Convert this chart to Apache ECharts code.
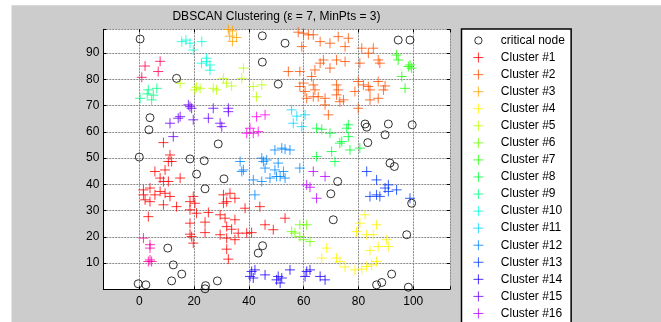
<!DOCTYPE html>
<html>
<head>
<meta charset="utf-8">
<script src="https://cdn.jsdelivr.net/npm/echarts@6/dist/echarts.min.js"></script>
<style>html,body{margin:0;padding:0;background:#fff}#c{width:661px;height:322px}</style>
</head>
<body>
<div id="c"></div>
<script>
const titleText = 'DBSCAN Clustering (\u03b5 = 7, MinPts = 3)';
const xTickValues = [0, 20, 40, 60, 80, 100];
const yTickValues = [10, 20, 30, 40, 50, 60, 70, 80, 90];

const criticalNodes = [[0.3,95.4],[13.6,80.4],[44.9,96.6],[44.9,86.6],[50.7,78.2],[53.2,93.8],[94.5,95],[98.8,95],
[3.9,65.4],[3.5,60.8],[28.8,55.4],[0,50.4],[18.5,49.7],[23.7,49],[20.9,43.9],[30.9,42.1],[24,38.3],
[82.4,63],[83,61.8],[90.9,63],[99.6,62.7],[89.7,58.9],[83.4,55.9],[91.5,48.1],[93.1,46.8],[72.4,41.1],[69.9,36.4],[99.4,32.8],
[70.8,26.5],[97.6,20.8],[92.1,5.8],[88.5,2.6],[86.6,1.7],[98.2,0.8],
[10.4,15.7],[12.4,9.3],[15.5,5.8],[11.8,3.2],[-0.4,2.1],[2.4,1.7],[24.2,1.4],[24,0.2],[28.5,3.2],[43.4,13.8],[45,16.6]];

const cluster1 = [[8.8,55.9],[11.2,51.2],[11.8,48.7],[10.6,48.7],[5.7,44.9],[9.4,45.5],[7.6,42.4],[8.8,41.1],[10.6,41.1],[14.9,42.4],[1.5,37.9],[3.9,38.6],[5.7,36],[7.6,37.3],[9.4,36.6],[1.5,36],
[11.2,35.4],[2.1,34.1],[3.9,33.4],[8.8,32.2],[13.6,31.5],[18.5,33.4],[20.3,32.8],[18.5,30.3],[20.9,29],[25.2,29.3],[3.3,27.7],[18.5,25.2],[24,25.6],[18.5,21],[19.7,17.6],[24,21.6],[30.7,36],[33.1,36.6],[34.9,34.7],[31.9,33.4],[30.7,32.8],[38.6,30.9],[44,31.5],[29.5,28.4],[31.3,27.1],[34.9,26.5],[31.9,23.9],[33.7,22.9],[29.5,20.8],[31.9,19.5],[36.1,21.4],[39.2,21.4],[41,21.6],[34.9,18.9],[45.9,24.6],[48.9,22.7],[31.9,15.3],[32.5,11.5],[19.1,20.1],[53.2,27.1],[19.7,35.4]];
const cluster2 = [[58,98],[59.9,97.6],[61.7,97],[63.5,97],[66,94.4],[59.3,92.5],[69.6,93.8],[72.6,96.3],[76.3,95.7],[75.1,92.5],[81.2,91.9],[85.4,91.9],[83.6,90],[87.2,87.4],[87.8,86.2],[67.2,87.4],[72,87.4],[75.1,86.8],[66,86.2],[69.6,84.3],[64.1,83.6],[58.6,83],[54.4,83],[62.9,81.1],[80.5,86.2],[58.6,77.3],[59.9,78.6],[63.5,77.9],[60.5,75.4],[64.1,76],[63.5,73.4],[61.1,72.8],[65.3,73.4],[67.8,72.8],[72,77.9],[72.6,76],[72,74.1],[74.5,72.2],[78.7,75.4],[79.9,79.2],[81.8,77.9],[83.6,77.3],[84.2,76],[87.2,79.2],[89.7,77.5],[89.1,76],[84.2,72.2],[87.2,72.8],[79.9,69],[67.8,70.3],[69,66.5],[73.2,71.5]];
const cluster3 = [[32.5,99],[34,98.5],[33,96.5],[35.5,96],[34,94.5]];
const cluster4 = [[82.4,28.4],[80.5,25.2],[86.6,24.6],[79.3,22],[83,20.8],[85.4,20.8],[90.3,18.9],[87.2,16.3],[90.9,16.3],[84.2,14.8],[68.4,15.7],[66.6,11.9],[72,11.9],[73.2,10.6],[75.1,8.5],[78.7,7.4],[81.2,7.7],[83,8.7],[84.8,9.3],[86.6,10.6]];
const cluster5 = [[14.9,78.5],[20.9,77],[20.3,76],[22.2,76.6],[28.2,76],[27,76.6],[30.7,80.4],[31.9,78.6],[33.7,77.5],[37.4,80.4],[38,84.3],[41.6,77.3],[44.7,77.9],[42.8,73.4]];
const cluster6 = [[58.6,24.6],[61.1,24.6],[55.6,22],[56.8,21.4],[58.6,20.1],[59.9,18.9],[62.3,18.2]];
const cluster7 = [[93.9,89.3],[94.5,87.4],[98.2,84.9],[99.4,84.3],[98.8,85.5],[95.8,81.1],[97,76.6]];
const cluster8 = [[64.7,61.4],[66.6,61],[69.6,59.5],[76.3,62.7],[75.7,61.4],[76.3,58.2],[73.2,55.7],[73.9,56.3],[76.9,53.1],[80.5,53.8],[70.2,52.5],[64.7,50.6],[71.4,48.7]];
const cluster9 = [[6.4,76.6],[3.3,76],[5.1,74],[0.3,72.8],[4.5,72.2],[2.9,74.5]];
const cluster10 = [[15.5,94.4],[18.5,93.8],[19.7,91.2],[22.8,94.4],[17,95],[24.6,88.1],[22.7,86.2],[25.8,85.5],[24.5,86.8],[25.8,83.5]];
const cluster11 = [[55.6,68.4],[60.5,66.5],[56.2,63.3],[59.3,62],[57.5,66]];
const cluster12 = [[36.8,48.7],[38,45.5],[37.4,44.9],[41.6,41.7],[44.7,50],[45.3,48.7],[46.5,49.3],[49.5,53.1],[45.9,46.2],[44.7,41.1],[47.7,42.4],[50.1,43],[42.2,36],[52,53.8],[53.2,53.4],[55,53.1],[50.7,48.1],[52.6,44.9],[51.4,43],[53.2,42.4],[49.5,45.5],[58.6,46.2]];
const cluster13 = [[83,44.9],[86.6,41.7],[89.7,38.6],[93.9,37.9],[90.9,39.8],[84.2,35.4],[86.6,36],[87.8,35.4],[98.8,34.7],[90.9,37.3]];
const cluster14 = [[41,6.8],[42.2,7.4],[40.4,4.9],[41.6,4.3],[45.9,5.5],[50.1,3.6],[50.7,4.9],[52,4.3],[55,7.4],[61.1,6.8],[62.3,7.4],[60.5,4.9],[66,4.9],[67.8,3.6],[51.4,2.4]];
const cluster15 = [[18.5,69.6],[17.9,70.3],[19.1,69],[14.2,65.2],[14.9,65.8],[11.2,63.3],[19.7,64.6],[25.2,65.2],[27,69],[32.5,67.7],[29.5,63.3],[30.1,62],[12.4,58.2],[32.5,69]];
const cluster16 = [[63.5,44.9],[67.8,43],[61.1,39.8],[62.3,38.9],[64.7,34.7]];
const cluster17 = [[42.8,65.8],[45.9,66.5],[40.4,61.4],[43.4,60.1],[39.2,59.5],[41.6,59.5]];
const cluster18 = [[1.5,19.5],[3.9,17],[3.9,15.7],[3.9,11.2],[3.3,10.6],[4.5,10.6]];
const cluster19 = [[7.6,86.9],[2.1,85.1],[6.9,83],[0.9,80.8]];

const clusterData = [cluster1,cluster2,cluster3,cluster4,cluster5,cluster6,cluster7,cluster8,cluster9,cluster10,
  cluster11,cluster12,cluster13,cluster14,cluster15,cluster16,cluster17,cluster18,cluster19];
const clusterColors = ['#ff0000','#ff5000','#ffa100','#fff200','#bcff00','#6bff00','#1bff00','#00ff36','#00ff86','#00ffd7',
  '#00d7ff','#0086ff','#0036ff','#1b00ff','#6b00ff','#bc00ff','#ff00f2','#ff00a1','#ff0050'];
const clusterNames = clusterData.map((d, i) => 'Cluster #' + (i + 1));
const legendShown = 16;

const FONT = '"Liberation Sans", Arial, Helvetica, sans-serif';
const plusSymbol = 'path://M0,5L10,5M5,0L5,10';
const plusIcon = 'path://M0,0M12,12M1,6L11,6M6,1L6,11';
const circleIcon = 'path://M0,0M12,12M9.65,6A3.65,3.65,0,1,1,2.35,6A3.65,3.65,0,1,1,9.65,6Z';

const xMin = -13.14, xMax = 113.4, yMin = 0, yMax = 99.1;

const series = [{
  name: 'critical node', type: 'scatter', data: criticalNodes,
  symbol: 'circle', symbolSize: 8,
  itemStyle: { color: 'transparent', borderColor: '#000', borderWidth: 1 },
  silent: true, z: 3
}];
clusterData.forEach((d, i) => {
  series.push({
    name: clusterNames[i], type: 'scatter', data: d,
    symbol: plusSymbol, symbolSize: 10,
    itemStyle: { color: 'transparent', borderColor: clusterColors[i], borderWidth: 1 },
    silent: true, z: 2
  });
});

const legendData = [{ name: 'critical node', icon: circleIcon,
  itemStyle: { color: 'transparent', borderColor: '#000', borderWidth: 1 } }];
for (let i = 0; i < legendShown; i++) {
  legendData.push({ name: clusterNames[i], icon: plusIcon,
    itemStyle: { color: 'transparent', borderColor: clusterColors[i], borderWidth: 1 } });
}

const chart = echarts.init(document.getElementById('c'), null, { renderer: 'canvas' });
chart.setOption({
  animation: false,
  backgroundColor: '#cccccc',
  textStyle: { fontFamily: FONT },
  graphic: [
    { type: 'rect', shape: { x: 0, y: 0, width: 11.5, height: 322 }, style: { fill: '#fff' }, silent: true },
    { type: 'rect', shape: { x: 0, y: 0, width: 661, height: 5.3 }, style: { fill: '#fff' }, silent: true },
    { type: 'text', x: 276.5, y: 16.5, silent: true,
      style: { text: titleText, font: '12px ' + FONT, fill: '#000', align: 'center', verticalAlign: 'middle' } }
  ],
  grid: { left: 103.3, right: 211, top: 29.3, bottom: 32.7, show: true, backgroundColor: '#fff', borderWidth: 0, containLabel: false },
  xAxis: [{
    type: 'value', min: xMin, max: xMax, splitNumber: 6, position: 'bottom',
    axisLine: { show: true, onZero: false, lineStyle: { color: '#000', width: 1 } },
    axisTick: { show: true, inside: true, length: 3, lineStyle: { color: '#000' } },
    axisLabel: { margin: 6, fontSize: 12, color: '#000', fontFamily: FONT, showMinLabel: true, showMaxLabel: true,
      formatter: v => (xTickValues.indexOf(Math.round(v * 1000) / 1000) >= 0 ? String(Math.round(v)) : '') },
    splitLine: { show: true, lineStyle: { color: '#888', width: 1, type: [2, 1] } }
  }, {
    type: 'value', min: xMin, max: xMax, splitNumber: 6, position: 'top',
    axisLine: { show: false, onZero: false },
    axisTick: { show: true, inside: true, length: 3, lineStyle: { color: '#000' } },
    axisLabel: { show: false }, splitLine: { show: false }
  }],
  yAxis: [{
    type: 'value', min: yMin, max: yMax, interval: 10, position: 'left',
    axisLine: { show: true, onZero: false, lineStyle: { color: '#000', width: 1 } },
    axisTick: { show: true, inside: true, length: 3, lineStyle: { color: '#000' } },
    axisLabel: { margin: 4, fontSize: 12, color: '#000', fontFamily: FONT,
      formatter: v => (yTickValues.indexOf(Math.round(v * 1000) / 1000) >= 0 ? String(Math.round(v)) : '') },
    splitLine: { show: true, lineStyle: { color: '#888', width: 1, type: [2, 1] } }
  }, {
    type: 'value', min: yMin, max: yMax, interval: 10, position: 'right',
    axisLine: { show: false, onZero: false },
    axisTick: { show: true, inside: true, length: 3, lineStyle: { color: '#000' } },
    axisLabel: { show: false }, splitLine: { show: false }
  }],
  legend: {
    show: true, type: 'plain', orient: 'vertical', left: 461.5, top: 29, height: 600,
    padding: [5, 6.3, 10, 10.4],
    itemWidth: 34.8, itemHeight: 12, itemGap: 4.06,
    backgroundColor: '#fff', borderColor: '#000', borderWidth: 1.5, borderRadius: 0,
    selectedMode: false,
    textStyle: { fontSize: 12, color: '#000', fontFamily: FONT },
    data: legendData
  },
  series: series
});
</script>
</body>
</html>
